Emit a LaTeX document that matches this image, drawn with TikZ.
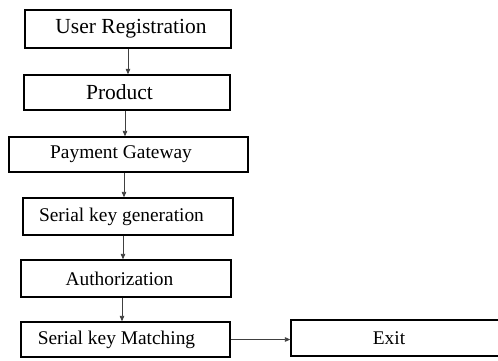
\documentclass[tikz,border=0pt]{standalone}
\usepackage{fontspec}
\setmainfont{Liberation Serif}
\usetikzlibrary{arrows.meta}
\begin{document}
\begin{tikzpicture}[x=1pt,y=-1pt,
  box/.style={draw=black, line width=1.3pt, inner sep=0pt, anchor=center},
  bigtxt/.style={font=\fontsize{21.5}{24}\selectfont},
  smalltxt/.style={font=\fontsize{19.4}{22}\selectfont},
  conn/.style={draw=black!75, line width=0.8pt, -{Triangle[length=5.5pt,width=4.5pt]}}]
\useasboundingbox (0,0) rectangle (498,361);
\clip (0,0) rectangle (498,361);
\fill[white] (0,0) rectangle (498,361);
\node[box, bigtxt, minimum width=206pt, minimum height=38pt] (b1) at (128,29) {\hspace*{6pt}User Registration};
\node[box, bigtxt, minimum width=206pt, minimum height=35pt] (b2) at (127,92.5) {Product\hspace*{15pt}};
\node[box, smalltxt, minimum width=239pt, minimum height=35pt] (b3) at (128.5,154.5) {Payment Gateway\hspace*{15pt}};
\node[box, smalltxt, minimum width=210pt, minimum height=37pt] (b4) at (128,216.5) {Serial key generation\hspace*{13pt}};
\node[box, smalltxt, minimum width=210pt, minimum height=37pt] (b5) at (126,278.5) {Authorization\hspace*{13pt}};
\node[box, smalltxt, minimum width=209pt, minimum height=35pt] (b6) at (125.5,339.5) {Serial key Matching\hspace*{18pt}};
\node[box, smalltxt, minimum width=240pt, minimum height=36pt] (ex) at (411,338) {Exit\hspace*{44pt}};
\draw[conn] (b1.south) -- (b1.south |- b2.north);
\draw[conn] ([xshift=-2pt]b2.south) -- ([xshift=-2pt]b2.south |- b3.north);
\draw[conn] ([xshift=-4.5pt]b3.south) -- ([xshift=-4.5pt]b3.south |- b4.north);
\draw[conn] ([xshift=-5pt]b4.south) -- ([xshift=-5pt]b4.south |- b5.north);
\draw[conn] ([xshift=-4pt]b5.south) -- ([xshift=-4pt]b5.south |- b6.north);
\draw[conn] (b6.east) -- (b6.east -| ex.west);
\end{tikzpicture}
\end{document}
